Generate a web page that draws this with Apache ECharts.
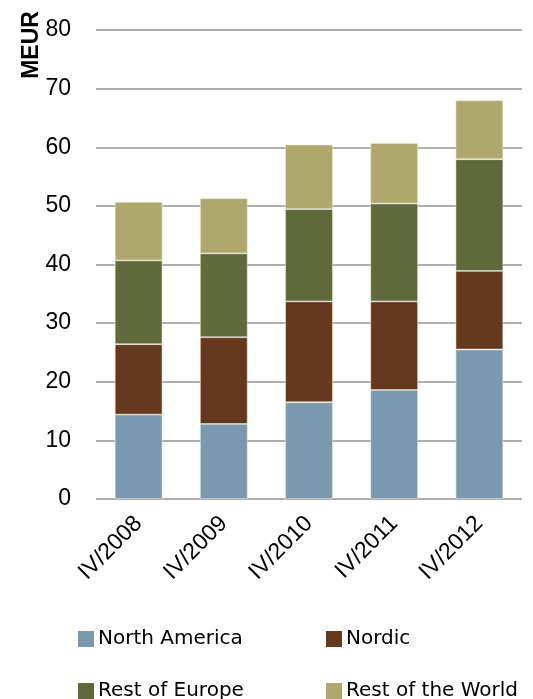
<!DOCTYPE html>
<html>
<head>
<meta charset="utf-8">
<script src="https://cdn.jsdelivr.net/npm/echarts@6/dist/echarts.min.js"></script>
<style>
  html, body { margin: 0; padding: 0; background: #ffffff; }
  #chart { width: 533px; height: 699px; }
</style>
</head>
<body>
<div id="chart"></div>
<script>
// Quarterly sales by market area, MEUR
const categories = ['IV/2008', 'IV/2009', 'IV/2010', 'IV/2011', 'IV/2012'];
const northAmerica = [14.4, 12.8, 16.5, 18.6, 25.5];
const nordic = [12.0, 14.8, 17.2, 15.1, 13.4];
const restOfEurope = [14.3, 14.3, 15.75, 16.7, 19.05];
const restOfWorld = [10.0, 9.4, 11.0, 10.3, 10.05];
const yTicks = { min: 0, max: 80, interval: 10 };

const FONT = 'Liberation Sans, Arial, sans-serif';
const LEGEND_FONT = 'DejaVu Sans, sans-serif';
const colors = {
  'North America': '#7b99ae',
  'Nordic': '#64391d',
  'Rest of Europe': '#5f6939',
  'Rest of the World': '#afa86d'
};

function barSeries(name, data) {
  return {
    name: name,
    type: 'bar',
    stack: 'total',
    barWidth: '56%',
    data: data,
    itemStyle: {
      color: colors[name],
      borderColor: 'rgba(235,232,215,0.7)',
      borderWidth: 0.8
    }
  };
}

function legendAt(name, left, top) {
  return {
    data: [name],
    left: left,
    top: top,
    icon: 'rect',
    itemWidth: 16,
    itemHeight: 16,
    itemGap: 0,
    padding: 0,
    selectedMode: false,
    itemStyle: { borderWidth: 0 },
    textStyle: { fontFamily: LEGEND_FONT, fontSize: 20, color: '#000', padding: [0, 0, 0, -1] }
  };
}

const chart = echarts.init(document.getElementById('chart'), null, { renderer: 'canvas' });
chart.setOption({
  animation: false,
  backgroundColor: '#ffffff',
  grid: { left: 96, right: 11, top: 30, bottom: 200 },
  xAxis: {
    type: 'category',
    data: categories,
    axisLine: { show: false },
    axisTick: { show: false },
    axisLabel: {
      rotate: 45,
      margin: 21,
      fontFamily: FONT,
      fontSize: 23,
      color: '#000'
    }
  },
  yAxis: {
    type: 'value',
    min: yTicks.min,
    max: yTicks.max,
    interval: yTicks.interval,
    axisLine: { show: false },
    axisTick: { show: false },
    axisLabel: {
      margin: 25,
      fontFamily: FONT,
      fontSize: 23,
      color: '#000'
    },
    splitLine: { lineStyle: { color: '#959595', width: 1.6 } }
  },
  legend: [
    legendAt('North America', 78, 629),
    legendAt('Nordic', 326, 629),
    legendAt('Rest of Europe', 78, 681),
    legendAt('Rest of the World', 326, 681)
  ],
  graphic: [{
    type: 'text',
    x: 32,
    y: 45,
    rotation: Math.PI / 2,
    style: {
      text: 'MEUR',
      fontFamily: FONT,
      fontWeight: 'bold',
      fontSize: 23,
      fill: '#000',
      textAlign: 'center',
      textVerticalAlign: 'middle'
    }
  }],
  series: [
    barSeries('North America', northAmerica),
    barSeries('Nordic', nordic),
    barSeries('Rest of Europe', restOfEurope),
    barSeries('Rest of the World', restOfWorld)
  ]
});
</script>
</body>
</html>
